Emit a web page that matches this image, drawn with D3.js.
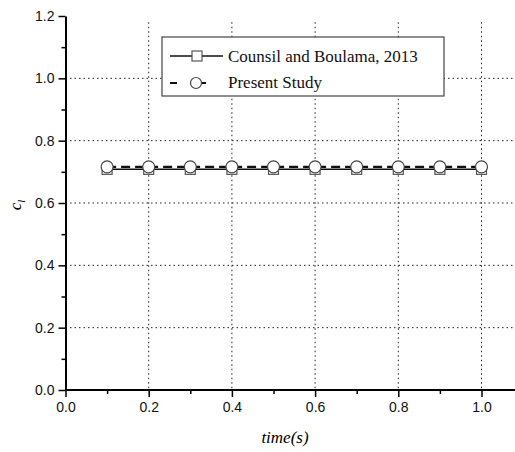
<!DOCTYPE html>
<html>
<head>
<meta charset="utf-8">
<script src="https://cdn.jsdelivr.net/npm/d3@7"></script>
<style>
  body { margin: 0; background: #fff; }
  .tick text { font-family: "Liberation Sans", Arial, sans-serif; font-size: 14px; fill: #111; }
  .grid line { stroke: #222; stroke-dasharray: 1.5,3; stroke-width: 1; }
</style>
</head>
<body>
<div id="chart"></div>
<script>
// Data
var times = [0.1, 0.2, 0.3, 0.4, 0.5, 0.6, 0.7, 0.8, 0.9, 1.0]
var counsil = [0.708, 0.708, 0.708, 0.708, 0.708, 0.708, 0.708, 0.708, 0.708, 0.708]
var present = [0.716, 0.716, 0.716, 0.716, 0.716, 0.716, 0.716, 0.716, 0.716, 0.716]
var xTicks = [0.0, 0.2, 0.4, 0.6, 0.8, 1.0]
var yTicks = [0.0, 0.2, 0.4, 0.6, 0.8, 1.0, 1.2]
var seriesNames = ["Counsil and Boulama, 2013", "Present Study"]

var width = 515, height = 452
var margin = { left: 65.5, top: 16, bottom: 62 }

var svg = d3.select("#chart").append("svg")
  .attr("width", width)
  .attr("height", height)

// Scales
var x = d3.scaleLinear().domain([0, 1.1]).range([margin.left, margin.left + 5.5 * 83.2])
var y = d3.scaleLinear().domain([0, 1.2]).range([height - margin.bottom, margin.top])

// Grid
var grid = svg.append("g").attr("class", "grid")
grid.selectAll(".gx")
  .data(xTicks.filter(d => d > 0))
  .enter().append("line")
  .attr("x1", d => x(d)).attr("x2", d => x(d))
  .attr("y1", y(1.18)).attr("y2", y(0))
grid.selectAll(".gy")
  .data(yTicks.filter(d => d > 0 && d < 1.2))
  .enter().append("line")
  .attr("x1", x(0)).attr("x2", width)
  .attr("y1", d => y(d)).attr("y2", d => y(d))

// Axes
function styleAxis(g) {
  g.selectAll(".domain").attr("stroke", "#000").attr("stroke-width", 2)
  g.selectAll(".tick line").attr("stroke", "#000").attr("stroke-width", 1.5)
}

var xMinor = d3.range(0.1, 1.1, 0.2)
var yMinor = d3.range(0.1, 1.2, 0.2)

svg.append("g")
  .attr("transform", `translate(0,${y(0)})`)
  .call(d3.axisBottom(x).tickValues(xMinor).tickSize(4).tickFormat(""))
  .call(g => g.select(".domain").remove())
  .call(styleAxis)

svg.append("g")
  .attr("transform", `translate(${x(0)},0)`)
  .call(d3.axisLeft(y).tickValues(yMinor).tickSize(4).tickFormat(""))
  .call(g => g.select(".domain").remove())
  .call(styleAxis)

svg.append("g")
  .attr("transform", `translate(0,${y(0)})`)
  .call(d3.axisBottom(x).tickValues(xTicks).tickSize(7).tickSizeOuter(0).tickPadding(5).tickFormat(d3.format(".1f")))
  .call(g => g.select(".domain").attr("d", `M${x(0)},0H${width}`))
  .call(styleAxis)

svg.append("g")
  .attr("transform", `translate(${x(0)},0)`)
  .call(d3.axisLeft(y).tickValues(yTicks).tickSize(7).tickSizeOuter(0).tickPadding(4).tickFormat(d3.format(".1f")))
  .call(styleAxis)

// Axis titles
svg.append("text")
  .attr("x", 285).attr("y", 443)
  .attr("text-anchor", "middle")
  .style("font-family", "'Liberation Serif', 'Times New Roman', serif")
  .style("font-style", "italic")
  .style("font-size", "17px")
  .text("time(s)")

var yl = svg.append("text")
  .attr("transform", "translate(21,205) rotate(-90)")
  .attr("text-anchor", "middle")
  .style("font-family", "'Liberation Serif', 'Times New Roman', serif")
  .style("font-style", "italic")
  .style("font-size", "17px")
yl.append("tspan").text("c")
yl.append("tspan").attr("font-size", "11px").attr("dy", 4).text("l")

// Series
var line = d3.line().x(d => x(d[0])).y(d => y(d[1]))
var cData = times.map((t, i) => [t, counsil[i]])
var pData = times.map((t, i) => [t, present[i]])

svg.append("path").datum(cData)
  .attr("d", line).attr("fill", "none")
  .attr("stroke", "#111").attr("stroke-width", 1.5)

svg.append("path").datum(pData)
  .attr("d", line).attr("fill", "none")
  .attr("stroke", "#111").attr("stroke-width", 2.2)
  .attr("stroke-dasharray", "9,5")

svg.selectAll(".sq").data(cData).enter().append("rect")
  .attr("x", d => x(d[0]) - 5).attr("y", d => y(d[1]) - 4)
  .attr("width", 10).attr("height", 9)
  .attr("fill", "#fff").attr("stroke", "#555").attr("stroke-width", 1.2)

svg.selectAll(".ci").data(pData).enter().append("circle")
  .attr("cx", d => x(d[0])).attr("cy", d => y(d[1]))
  .attr("r", 6)
  .attr("fill", "#fff").attr("stroke", "#444").attr("stroke-width", 1.2)

// Legend
var lg = svg.append("g")
lg.append("rect")
  .attr("x", 162).attr("y", 37).attr("width", 282).attr("height", 59)
  .attr("fill", "#fff").attr("stroke", "#444").attr("stroke-width", 1.2)

lg.append("line").attr("x1", 170).attr("x2", 223).attr("y1", 56).attr("y2", 56)
  .attr("stroke", "#111").attr("stroke-width", 1.5)
lg.append("rect").attr("x", 192).attr("y", 51).attr("width", 10).attr("height", 10)
  .attr("fill", "#fff").attr("stroke", "#555").attr("stroke-width", 1.2)

lg.append("line").attr("x1", 170).attr("x2", 213).attr("y1", 83).attr("y2", 83)
  .attr("stroke", "#111").attr("stroke-width", 2)
  .attr("stroke-dasharray", "7,11,0,9,9")
lg.append("circle").attr("cx", 196).attr("cy", 83).attr("r", 5.5)
  .attr("fill", "#fff").attr("stroke", "#444").attr("stroke-width", 1.2)

lg.selectAll(".lt").data(seriesNames).enter().append("text")
  .attr("x", 228).attr("y", (d, i) => 62 + i * 26)
  .style("font-family", "'Liberation Serif', 'Times New Roman', serif")
  .style("font-size", "17px")
  .attr("fill", "#111")
  .text(d => d)
</script>
</body>
</html>
